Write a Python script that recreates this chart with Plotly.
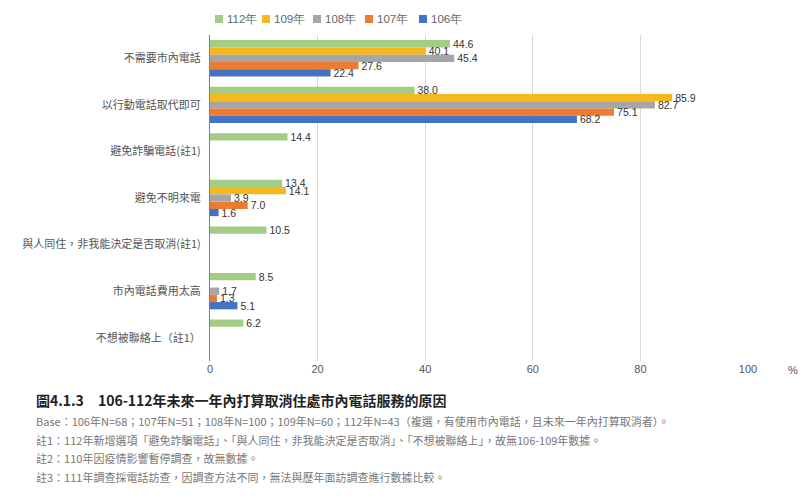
import plotly.graph_objects as go

categories = ["不需要市內電話", "以行動電話取代即可", "避免詐騙電話(註1)", "避免不明來電",
              "與人同住，非我能決定是否取消(註1)", "市內電話費用太高", "不想被聯絡上（註1）"]
series_names = ["112年", "109年", "108年", "107年", "106年"]
v112 = [44.6, 38.0, 14.4, 13.4, 10.5, 8.5, 6.2]
v109 = [40.1, 85.9, None, 14.1, None, None, None]
v108 = [45.4, 82.7, None, 3.9, None, 1.7, None]
v107 = [27.6, 75.1, None, 7.0, None, 1.3, None]
v106 = [22.4, 68.2, None, 1.6, None, 5.1, None]
series_values = [v112, v109, v108, v107, v106]
colors = ["#a3cd86", "#f6b81c", "#a6a6a6", "#ec7c31", "#4472c4"]
x_ticks = [0, 20, 40, 60, 80, 100]

caption_title = "圖4.1.3　106-112年未來一年內打算取消住處市內電話服務的原因"
notes = [
    "Base：106年N=68；107年N=51；108年N=100；109年N=60；112年N=43（複選，有使用市內電話，且未來一年內打算取消者）。",
    "註1：112年新增選項「避免詐騙電話」、「與人同住，非我能決定是否取消」、「不想被聯絡上」，故無106-109年數據。",
    "註2：110年因疫情影響暫停調查，故無數據。",
    "註3：111年調查採電話訪查，因調查方法不同，無法與歷年面訪調查進行數據比較。",
]

FONT = "Noto Sans CJK TC, Noto Sans, sans-serif"
NUMFONT = "Liberation Sans, Arial, sans-serif"

T, B, L, R = 35, 139, 210, 62
PW = 810 - L - R
PH = 500 - T - B


def px_x(px):
    return (px - L) / PW


def px_y(py):
    return 1 + (T - py) / PH


fig = go.Figure()
for name, vals, col in zip(series_names, series_values, colors):
    fig.add_trace(go.Bar(
        y=categories, x=vals, name=name, orientation="h",
        marker=dict(color=col, line=dict(width=0)),
        text=[f"{v:.1f}" if v is not None else "" for v in vals],
        textposition="outside", constraintext="none", cliponaxis=False,
        textfont=dict(size=10.5, color="#333333", family=NUMFONT),
        showlegend=False,
    ))

fig.update_layout(
    width=810, height=500,
    margin=dict(l=L, r=R, t=T, b=B, autoexpand=False),
    paper_bgcolor="white", plot_bgcolor="white",
    barmode="group", bargap=0.22, bargroupgap=0,
    font=dict(family=FONT, size=11, color="#555555"),
    showlegend=False,
    xaxis=dict(range=[0, 100], tickvals=x_ticks, showgrid=True, gridcolor="#d9d9d9",
               gridwidth=1, zeroline=False, showline=False, ticks="",
               tickfont=dict(size=11, color="#555555", family=NUMFONT), fixedrange=True),
    yaxis=dict(autorange="reversed", showline=True, linecolor="#808080", linewidth=1,
               ticks="", ticklabelstandoff=6, tickfont=dict(size=11, color="#555555")),
)

# legend (drawn manually to match the compact reference layout)
legend_left = [215, 262, 313, 365, 419]
for name, col, lx in zip(series_names, colors, legend_left):
    fig.add_shape(type="rect", xref="paper", yref="paper",
                  x0=px_x(lx), x1=px_x(lx + 8), y0=px_y(23), y1=px_y(15),
                  fillcolor=col, line=dict(width=0))
    fig.add_annotation(x=px_x(lx + 10), xref="paper", y=px_y(19), yref="paper",
                       xanchor="left", yanchor="middle", showarrow=False, text=name,
                       font=dict(size=11.5, color="#666666", family=NUMFONT))

fig.add_annotation(x=1.0, xref="paper", xshift=45, xanchor="center", y=0, yref="paper",
                   yshift=-9, yanchor="middle", text="%", showarrow=False,
                   font=dict(size=11, color="#555555", family=NUMFONT))

fig.add_annotation(x=-L / PW, xref="paper", xshift=34, y=0, yref="paper", yshift=-27,
                   xanchor="left", yanchor="top", showarrow=False,
                   text="<b>" + caption_title + "</b>",
                   font=dict(size=14, color="#222222"))
for i, n in enumerate(notes):
    fig.add_annotation(x=-L / PW, xref="paper", xshift=34, y=0, yref="paper",
                       yshift=-50 - i * 18.7, xanchor="left", yanchor="top", showarrow=False,
                       text=n, font=dict(size=11, color="#777777"))

fig.write_html("out.html")
